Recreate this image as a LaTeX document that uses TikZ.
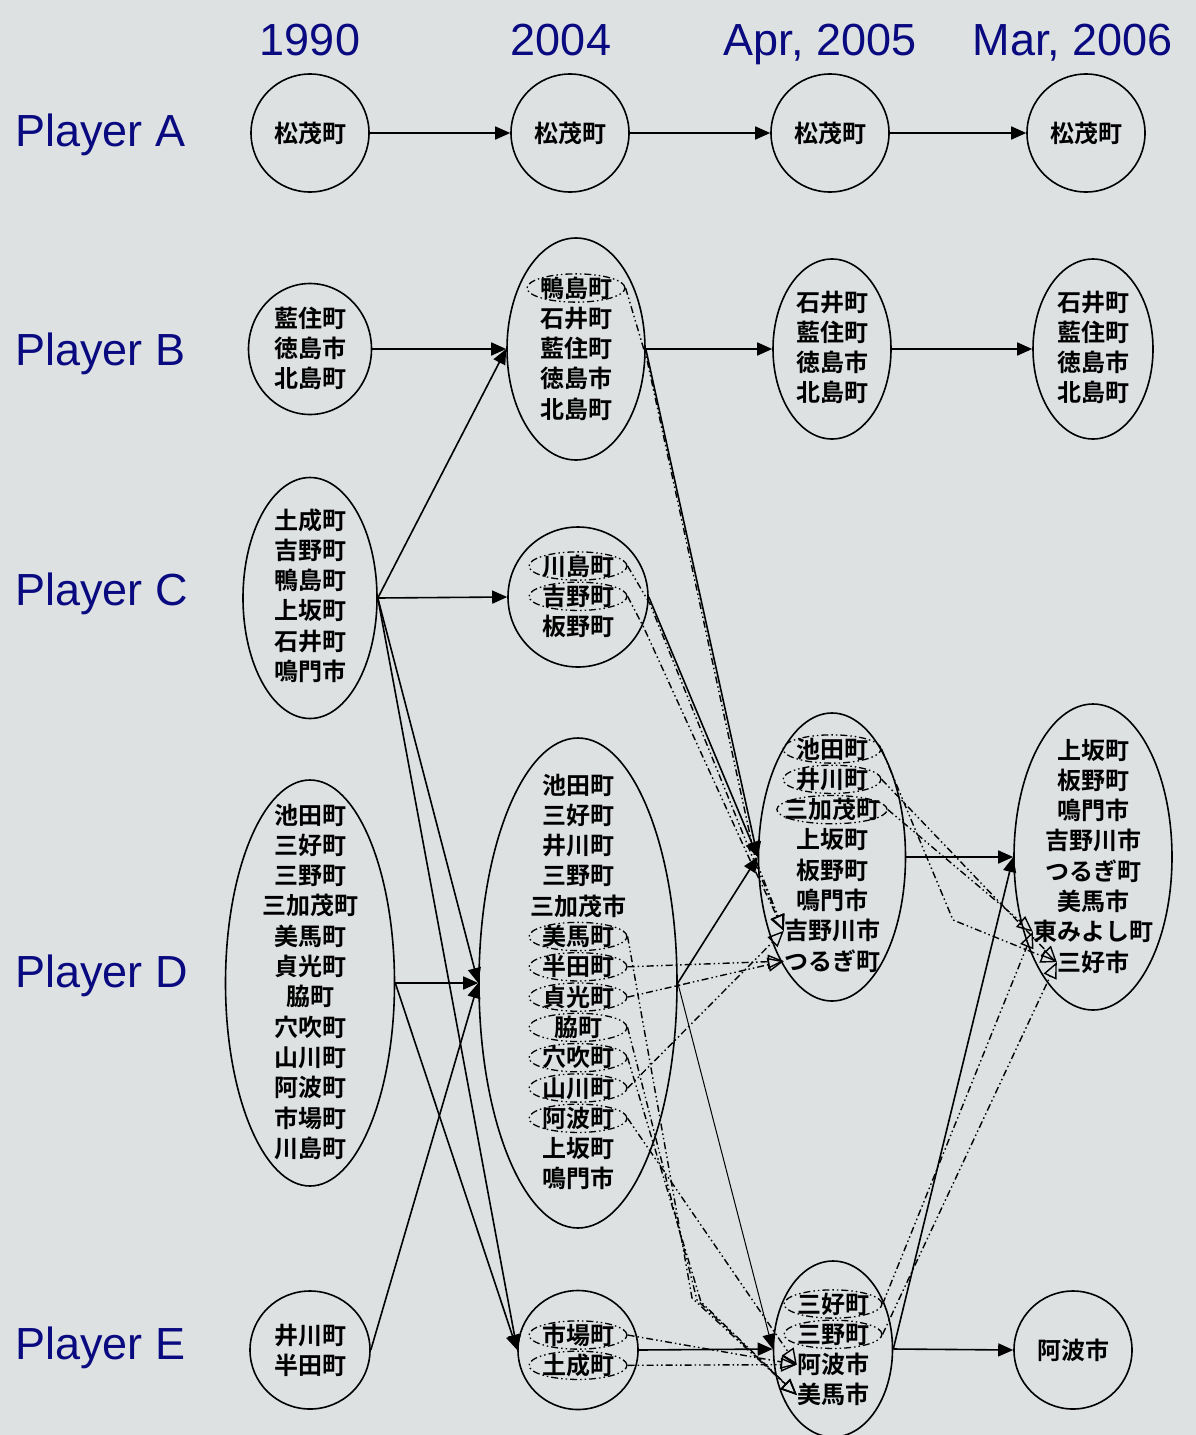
\documentclass[tikz,border=0pt]{standalone}
\usepackage{fontspec}
\usepackage{tikz}
\usetikzlibrary{arrows.meta,shapes.geometric}
\newfontfamily\jpfont{Noto Sans CJK JP}[BoldFont={Noto Sans CJK JP Bold}]
\newfontfamily\labelfont{Liberation Sans}
\definecolor{bggray}{RGB}{221,225,226}
\definecolor{labelblue}{RGB}{10,10,128}

\begin{document}
\begin{tikzpicture}[
  x=1pt, y=-1pt,
  zone/.style={draw, ellipse, line width=1.6pt, inner sep=0pt},
  town/.style={font={\fontsize{24}{30}\selectfont\jpfont\bfseries}, inner sep=0pt, text height=20pt, text depth=2pt},
  dashdots/.style={dash pattern=on 7pt off 3pt on 1.5pt off 3pt on 1.5pt off 3pt},
  subtown/.style={town, draw, ellipse, dashdots, line width=1.3pt, text width=72pt, align=center, inner xsep=-1.4pt, inner ysep=-1pt},
  subtown4/.style={subtown, text width=96pt, inner xsep=-9pt},
  arrow/.style={line width=1.6pt, -{Triangle[length=15pt, width=13pt]}},
  moved/.style={dashdots, line width=1.4pt, line join=round, -{Triangle[open, length=16pt, width=14pt]}},
  year/.style={font={\fontsize{45}{54}\selectfont\labelfont}, text=labelblue, inner sep=0pt}
]
\useasboundingbox (0,0) rectangle (1196,1435);
\fill[bggray] (0,0) rectangle (1196,1435);

% headings
\node[year, anchor=base] (y1990) at (310,55) {1990};
\node[year, anchor=base] (y2004) at (561,55) {2004};
\node[year, anchor=base] (y2005) at (820,55) {Apr, 2005};
\node[year, anchor=base] (y2006) at (1073,55) {Mar, 2006};
\node[year, anchor=base west] (pa) at (15,146) {Player A};
\node[year, anchor=base west] (pb) at (15,365) {Player B};
\node[year, anchor=base west] (pc) at (15,605) {Player C};
\node[year, anchor=base west] (pd) at (15,987) {Player D};
\node[year, anchor=base west] (pe) at (15,1359) {Player E};

% player A
\foreach \n/\x in {a1/310,a2/570,a3/830,a4/1086} {
  \node[zone, minimum width=118pt, minimum height=118pt] (\n) at (\x,133) {};
  \node[town] (\n-1) at (\x,133) {松茂町};
}

% player B
\node[zone, minimum width=123pt, minimum height=131pt] (b1) at (310,349) {};
\node[zone, minimum width=138pt, minimum height=222pt] (b2) at (576,349) {};
\node[zone, minimum width=118pt, minimum height=180pt] (b3) at (832,349) {};
\node[zone, minimum width=120pt, minimum height=180pt] (b4) at (1093,349) {};
\foreach \t [count=\i] in {藍住町,徳島市,北島町}
  \node[town] (b1-\i) at (310,{318+30.3*(\i-1)}) {\t};
\foreach \t/\s [count=\i] in {鴨島町/subtown,石井町/town,藍住町/town,徳島市/town,北島町/town}
  \node[\s] (b2-\i) at (576,{288+30.3*(\i-1)}) {\t};
\foreach \t [count=\i] in {石井町,藍住町,徳島市,北島町} {
  \node[town] (b3-\i) at (832,{302+30.3*(\i-1)}) {\t};
  \node[town] (b4-\i) at (1093,{302+30.3*(\i-1)}) {\t};
}

% player C
\node[zone, minimum width=134pt, minimum height=241pt] (c1) at (310,598) {};
\node[zone, minimum width=140pt, minimum height=140pt] (c2) at (578,597) {};
\foreach \t [count=\i] in {土成町,吉野町,鴨島町,上坂町,石井町,鳴門市}
  \node[town] (c1-\i) at (310,{520+30.3*(\i-1)}) {\t};
\foreach \t/\s [count=\i] in {川島町/subtown,吉野町/subtown,板野町/town}
  \node[\s] (c2-\i) at (578,{566+30.3*(\i-1)}) {\t};

% player D
\node[zone, minimum width=169pt, minimum height=406pt] (d1) at (310,983) {};
\node[zone, minimum width=198pt, minimum height=490pt] (d2) at (578,983) {};
\node[zone, minimum width=147pt, minimum height=288pt] (d3) at (832,857) {};
\node[zone, minimum width=158pt, minimum height=306pt] (d4) at (1093,857) {};
\foreach \t [count=\i] in {池田町,三好町,三野町,三加茂町,美馬町,貞光町,脇町,穴吹町,山川町,阿波町,市場町,川島町}
  \node[town] (d1-\i) at (310,{815+30.3*(\i-1)}) {\t};
\foreach \t/\s [count=\i] in {池田町/town,三好町/town,井川町/town,三野町/town,三加茂市/town,美馬町/subtown,半田町/subtown,貞光町/subtown,脇町/subtown,穴吹町/subtown,山川町/subtown,阿波町/subtown,上坂町/town,鳴門市/town}
  \node[\s] (d2-\i) at (578,{785+30.3*(\i-1)}) {\t};
\foreach \t/\s [count=\i] in {池田町/subtown,井川町/subtown,三加茂町/subtown4,上坂町/town,板野町/town,鳴門市/town,吉野川市/town,つるぎ町/town}
  \node[\s] (d3-\i) at (832,{749+30.3*(\i-1)}) {\t};
\foreach \t [count=\i] in {上坂町,板野町,鳴門市,吉野川市,つるぎ町,美馬市,東みよし町,三好市}
  \node[town] (d4-\i) at (1093,{750+30.3*(\i-1)}) {\t};

% player E
\node[zone, minimum width=120pt, minimum height=118pt] (e1) at (310,1350) {};
\node[zone, minimum width=120pt, minimum height=119pt] (e2) at (578,1350) {};
\node[zone, minimum width=119pt, minimum height=176pt] (e3) at (833,1349) {};
\node[zone, minimum width=118pt, minimum height=118pt] (e4) at (1073,1350) {};
\foreach \t [count=\i] in {井川町,半田町}
  \node[town] (e1-\i) at (310,{1335+30.3*(\i-1)}) {\t};
\foreach \t [count=\i] in {市場町,土成町}
  \node[subtown] (e2-\i) at (578,{1335+30.3*(\i-1)}) {\t};
\foreach \t/\s [count=\i] in {三好町/subtown,三野町/subtown,阿波市/town,美馬市/town}
  \node[\s] (e3-\i) at (833,{1304+30.3*(\i-1)}) {\t};
\node[town] (e4-1) at (1073,1350) {阿波市};

% whole players
\draw[arrow] (a1.east) -- (a2.west);
\draw[arrow] (a2.east) -- (a3.west);
\draw[arrow] (a3.east) -- (a4.west);
\draw[arrow] (b1.east) -- (b2.west);
\draw[arrow] (b2.east) -- (b3.west);
\draw[arrow] (b3.east) -- (b4.west);
\draw[arrow] (c1.east) -- (b2.west);
\draw[arrow] (c1.east) -- (c2.west);
\draw[arrow] (c1.east) -- (d2.west);
\draw[arrow] (c1.east) -- (e2.west);
\draw[arrow] (d1.east) -- (d2.west);
\draw[arrow] (d1.east) -- (e2.west);
\draw[arrow] (e1.east) -- (d2.west);
\draw[arrow] (b2.east) -- (d3.west);
\draw[arrow] (c2.east) -- (d3.west);
\draw[arrow] (d2.east) -- (d3.west);
\draw[arrow, line width=1pt] (d2.east) -- (e3.west);
\draw[arrow] (e2.east) -- (e3.west);
\draw[arrow] (d3.east) -- (d4.west);
\draw[arrow] (e3.east) -- (d4.west);
\draw[arrow] (e3.east) -- (e4.west);

% towns that moved
\draw[moved] (b2-1.east) -- (647,360) -- (755,858) -- (d3-7.west);
\draw[moved] (c2-1.east) -- (650,604) -- (752,856) -- (d3-7.west);
\draw[moved] (c2-2.east) -- (644,628) -- (750,860) -- (d3-7.west);
\draw[moved] (d2-11.east) -- (d3-7.west);
\draw[moved] (d2-7.east) -- (d3-8.west);
\draw[moved] (d2-8.east) -- (d3-8.west);
\draw[moved] (d2-6.east) -- (692,1298) -- (e3-4.west);
\draw[moved] (d2-9.east) -- (697,1300) -- (e3-4.west);
\draw[moved] (d2-10.east) -- (701,1302) -- (e3-4.west);
\draw[moved] (d2-12.east) -- (e3-3.west);
\draw[moved] (e2-1.east) -- (e3-3.west);
\draw[moved] (e2-2.east) -- (e3-3.west);
\draw[moved] (d3-1.east) -- (953,920) -- (d4-8.west);
\draw[moved] (d3-2.east) -- (d4-8.west);
\draw[moved] (d3-3.east) -- (d4-7.west);
\draw[moved] (e3-1.east) -- (d4-7.west);
\draw[moved] (e3-2.east) -- (d4-8.west);
\end{tikzpicture}
\end{document}
